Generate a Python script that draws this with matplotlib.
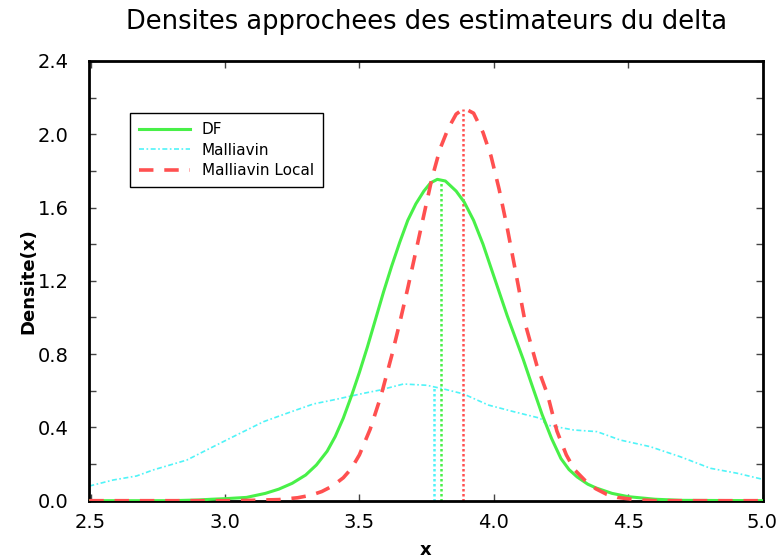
import matplotlib
matplotlib.use("Agg")
import matplotlib.pyplot as plt
import numpy as np

# DF (solid green)
df_x = [2.495, 2.80, 2.90, 2.95, 3.00, 3.08, 3.15, 3.20, 3.25, 3.30, 3.34, 3.38, 3.41, 3.44,
        3.47, 3.50, 3.53, 3.56, 3.59, 3.62, 3.65, 3.68, 3.71, 3.74, 3.765, 3.79, 3.82, 3.86,
        3.89, 3.925, 3.96, 3.99, 4.02, 4.05, 4.08, 4.11, 4.14, 4.18, 4.215, 4.25, 4.28, 4.31,
        4.35, 4.38, 4.44, 4.50, 4.60, 4.70, 5.0]
df_y = [0.0, 0.0, 0.004, 0.008, 0.011, 0.018, 0.04, 0.063, 0.095, 0.14, 0.195, 0.27, 0.35,
        0.45, 0.57, 0.70, 0.84, 0.99, 1.14, 1.28, 1.41, 1.53, 1.62, 1.69, 1.735, 1.754, 1.745,
        1.69, 1.63, 1.53, 1.40, 1.27, 1.14, 1.01, 0.89, 0.77, 0.64, 0.47, 0.34, 0.23, 0.17,
        0.13, 0.09, 0.07, 0.04, 0.022, 0.008, 0.002, 0.0]

# Malliavin (dotted cyan)
mal_x = [2.495, 2.584, 2.671, 2.733, 2.858, 2.932, 3.019, 3.081, 3.143, 3.230, 3.329, 3.403,
         3.515, 3.577, 3.664, 3.751, 3.813, 3.887, 3.980, 4.074, 4.173, 4.198, 4.297, 4.384,
         4.471, 4.582, 4.694, 4.806, 4.905, 5.0]
mal_y = [0.080, 0.113, 0.135, 0.168, 0.222, 0.277, 0.341, 0.386, 0.431, 0.477, 0.528, 0.55,
         0.586, 0.604, 0.637, 0.630, 0.610, 0.583, 0.522, 0.486, 0.45, 0.413, 0.386, 0.377,
         0.331, 0.295, 0.240, 0.177, 0.150, 0.117]

# Malliavin Local (dashed red)
loc_x = [2.495, 3.0, 3.10, 3.20, 3.27, 3.32, 3.36, 3.40, 3.44, 3.47, 3.50, 3.54, 3.58, 3.62,
         3.65, 3.68, 3.71, 3.74, 3.77, 3.80, 3.83, 3.86, 3.89, 3.925, 3.96, 3.99, 4.02, 4.05,
         4.08, 4.12, 4.16, 4.20, 4.235, 4.27, 4.30, 4.34, 4.38, 4.42, 4.46, 4.53, 4.60, 5.0]
loc_y = [0.0, 0.0, 0.002, 0.006, 0.016, 0.03, 0.05, 0.08, 0.125, 0.175, 0.25, 0.39, 0.57, 0.79,
         0.97, 1.16, 1.36, 1.56, 1.76, 1.92, 2.03, 2.11, 2.142, 2.115, 2.01, 1.88, 1.70, 1.49,
         1.26, 0.95, 0.74, 0.58, 0.38, 0.25, 0.17, 0.11, 0.065, 0.035, 0.018, 0.005, 0.0, 0.0]

# Means (vertical dotted markers)
mean_mal = 3.776
mean_df = 3.804
mean_loc = 3.887
mean_mal_h = 0.62
mean_df_h = 1.74
mean_loc_h = 2.14

labels = ["DF", "Malliavin", "Malliavin Local"]
xticks = [2.5, 3.0, 3.5, 4.0, 4.5, 5.0]
yticks = [0.0, 0.4, 0.8, 1.2, 1.6, 2.0, 2.4]

green = "#48f048"
cyan = "#50f4f8"
red = "#ff5050"

fig = plt.figure(figsize=(7.82, 5.59), dpi=100)
ax = fig.add_axes([89.3 / 782, 1 - 500.7 / 559, (762.5 - 89.3) / 782, (500.7 - 61) / 559])

l1, = ax.plot(df_x, df_y, color=green, lw=2.2, label=labels[0], zorder=3)
l2, = ax.plot(mal_x, mal_y, color=cyan, lw=1.2, ls=(0, (3, 1.5, 1, 1.5)), label=labels[1], zorder=2)
l3, = ax.plot(loc_x, loc_y, color=red, lw=2.6, ls=(0, (4, 3)), label=labels[2], zorder=4)

ax.vlines(mean_mal, 0, mean_mal_h, color=cyan, lw=1.8, ls=(0, (1, 1)), zorder=2)
ax.vlines(mean_df, 0, mean_df_h, color=green, lw=1.8, ls=(0, (1, 1)), zorder=2)
ax.vlines(mean_loc, 0, mean_loc_h, color=red, lw=1.8, ls=(0, (1, 1)), zorder=2)

ax.set_xlim(2.495, 5.0)
ax.set_ylim(0, 2.4)
ax.set_xticks(xticks)
ax.set_xticklabels([f"{t:.1f}" for t in xticks])
ax.set_yticks(yticks)
ax.set_yticklabels([f"{t:.1f}" for t in yticks])
ax.set_yticks(np.arange(0.2, 2.4, 0.4), minor=True)
ax.tick_params(which="both", direction="in", top=True, right=True, length=5, width=1,
               color="#444444")
ax.tick_params(axis="x", labelsize=14, pad=9)
ax.tick_params(axis="y", labelsize=14, pad=15)
for s in ax.spines.values():
    s.set_linewidth(2)

ax.set_xlabel("x", fontsize=13, fontweight="bold", labelpad=6)
ax.set_ylabel("Densite(x)", fontsize=13, fontweight="bold")
ax.yaxis.set_label_coords((37 - 89.3) / 673.2, 0.5)
fig.text(0.545, 0.961, "Densites approchees des estimateurs du delta", ha="center", va="center",
         fontsize=18.5)

leg = ax.legend(handles=[l1, l2, l3], loc="upper left", bbox_to_anchor=(130 / 782, 1 - 113 / 559),
                bbox_transform=fig.transFigure, borderaxespad=0, fontsize=11, frameon=True,
                fancybox=False, edgecolor="black", framealpha=1, borderpad=0.6,
                handlelength=3.3, labelspacing=0.35)
leg.get_frame().set_linewidth(1)

fig.savefig("out.png", dpi=100)
